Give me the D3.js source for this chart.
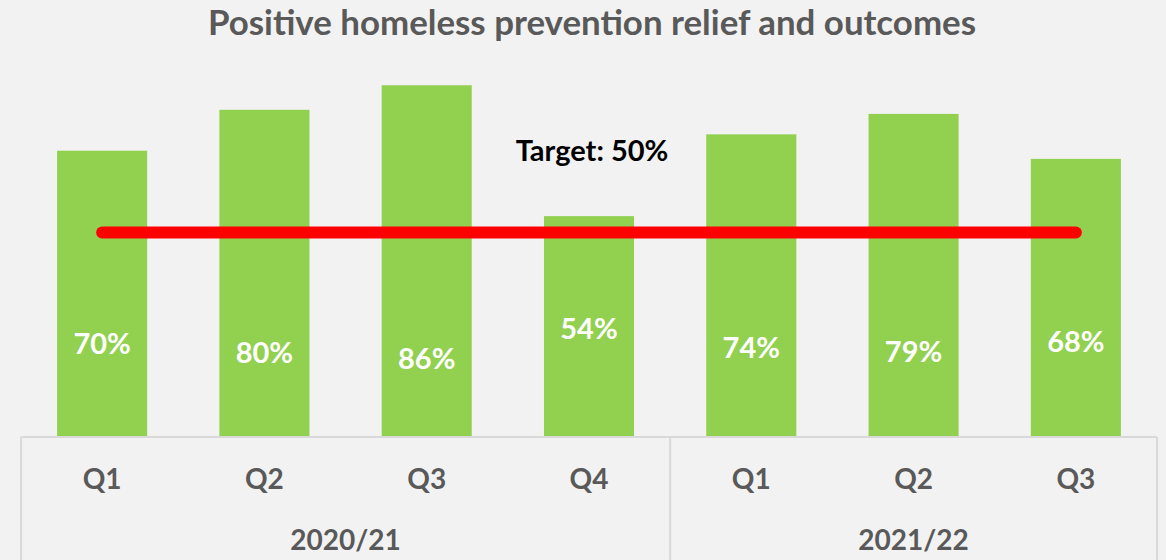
<!DOCTYPE html>
<html>
<head>
<meta charset="utf-8">
<script src="https://cdn.jsdelivr.net/npm/d3@7"></script>
<style>
  body { margin: 0; background: #f2f2f2; }
  svg { display: block; font-family: Lato, "Open Sans", sans-serif; font-weight: bold; }
</style>
</head>
<body>
<div id="chart"></div>
<script>
// quarters and the financial year each one belongs to
const quarters = ["Q1", "Q2", "Q3", "Q4", "Q1", "Q2", "Q3"];
const periodYear = ["2020/21", "2020/21", "2020/21", "2020/21", "2021/22", "2021/22", "2021/22"];
const years = ["2020/21", "2021/22"];
// % positive outcomes
const values = [70, 80, 86, 54, 74, 79, 68];
const target = 50;

const w = 1166;
const h = 560;
const left = 21, right = 1157;
const baseY = 437;

const svg = d3.select("#chart").append("svg")
  .attr("width", w)
  .attr("height", h);

svg.append("rect").attr("width", w).attr("height", h).attr("fill", "#f2f2f2");

const idx = values.map((d, i) => i);
const xScale = d3.scaleBand().domain(idx).range([left, right])
  .paddingInner(0.445).paddingOuter(0.2225);
const yScale = d3.scaleLinear().domain([0, 100]).range([baseY, baseY - 409]);

// title
svg.append("text")
  .attr("x", 592).attr("y", 35)
  .attr("text-anchor", "middle")
  .attr("font-size", 34)
  .attr("fill", "#595959")
  .attr("textLength", 768)
  .attr("lengthAdjust", "spacingAndGlyphs")
  .text("Positive homeless prevention relief and outcomes");

// bars
svg.selectAll("rect.bar")
  .data(values)
  .enter()
  .append("rect")
  .attr("class", "bar")
  .attr("x", (d, i) => xScale(i))
  .attr("width", xScale.bandwidth())
  .attr("y", d => yScale(d))
  .attr("height", d => baseY - yScale(d))
  .attr("fill", "#92d050");

// data labels (sit lower in the taller bars, like the original)
svg.selectAll("text.lbl")
  .data(values)
  .enter()
  .append("text")
  .attr("class", "lbl")
  .attr("x", (d, i) => xScale(i) + xScale.bandwidth() / 2)
  .attr("y", d => baseY - (160.6 - 0.9375 * d) + 12)
  .attr("text-anchor", "middle")
  .attr("font-size", 29)
  .attr("fill", "#ffffff")
  .text(d => d + "%");

// target line
const x0 = xScale(0) + xScale.bandwidth() / 2;
const x1 = xScale(values.length - 1) + xScale.bandwidth() / 2;
svg.append("line")
  .attr("x1", x0).attr("x2", x1)
  .attr("y1", yScale(target)).attr("y2", yScale(target))
  .attr("stroke", "#ff0000")
  .attr("stroke-width", 12)
  .attr("stroke-linecap", "round");

svg.append("text")
  .attr("x", 592).attr("y", 161)
  .attr("text-anchor", "middle")
  .attr("font-size", 29)
  .attr("fill", "#000000")
  .text("Target: " + target + "%");

// two-level category axis
const axis = svg.append("g").attr("stroke", "#d9d9d9").attr("stroke-width", 2);
axis.append("line").attr("x1", left).attr("x2", right).attr("y1", baseY).attr("y2", baseY);

const step = xScale.step();
const yearBounds = years.map(y => {
  const ids = idx.filter(i => periodYear[i] === y);
  return [left + ids[0] * step, left + (ids[ids.length - 1] + 1) * step];
});
const edges = [left].concat(yearBounds.map(b => b[1]));
axis.selectAll("line.sep")
  .data(edges)
  .enter()
  .append("line")
  .attr("class", "sep")
  .attr("x1", d => d).attr("x2", d => d)
  .attr("y1", baseY).attr("y2", h);

svg.selectAll("text.q")
  .data(quarters)
  .enter()
  .append("text")
  .attr("class", "q")
  .attr("x", (d, i) => xScale(i) + xScale.bandwidth() / 2)
  .attr("y", 489)
  .attr("text-anchor", "middle")
  .attr("font-size", 28)
  .attr("fill", "#595959")
  .text(d => d);

svg.selectAll("text.yr")
  .data(years)
  .enter()
  .append("text")
  .attr("class", "yr")
  .attr("x", (d, i) => (yearBounds[i][0] + yearBounds[i][1]) / 2)
  .attr("y", 550)
  .attr("text-anchor", "middle")
  .attr("font-size", 28)
  .attr("fill", "#595959")
  .text(d => d);
</script>
</body>
</html>
